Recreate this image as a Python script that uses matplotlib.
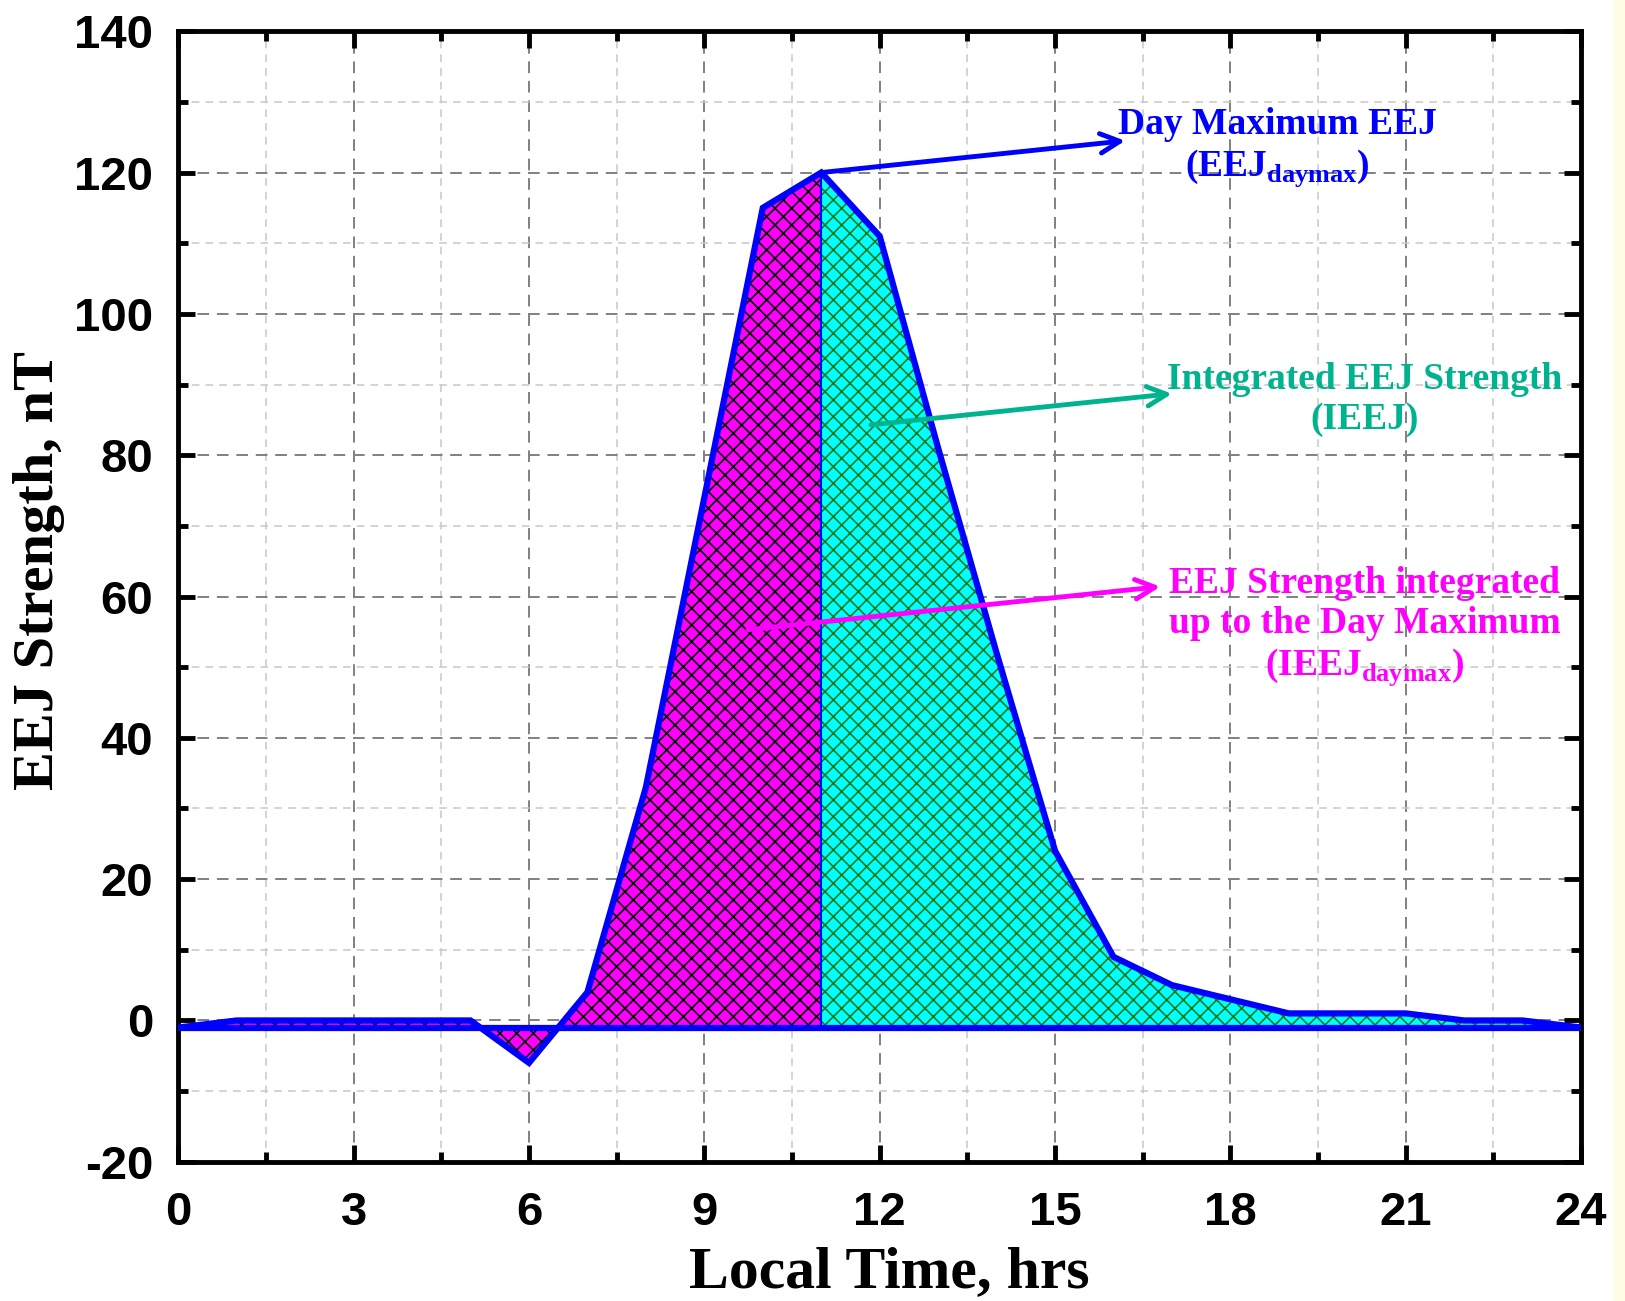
import matplotlib.pyplot as plt
from matplotlib.ticker import MultipleLocator
from matplotlib.patches import Rectangle

plt.rcParams['mathtext.fontset'] = 'custom'
plt.rcParams['mathtext.rm'] = 'Liberation Serif:bold'
plt.rcParams['mathtext.bf'] = 'Liberation Serif:bold'
plt.rcParams['hatch.linewidth'] = 1.2
plt.rcParams['axes.unicode_minus'] = False

# hourly EEJ strength (nT)
hours = list(range(0, 25))
eej = [-1, 0, 0, 0, 0, 0, -6, 4, 33, 74, 115, 120, 111, 81, 52, 24,
       9, 5, 3, 1, 1, 1, 0, 0, -1]
baseline = -1
peak_hour = 11

x_ticks = [0, 3, 6, 9, 12, 15, 18, 21, 24]
y_ticks = [-20, 0, 20, 40, 60, 80, 100, 120, 140]

fig = plt.figure(figsize=(16.25, 13.01), dpi=100)
fig.patches.append(Rectangle((0.9925, 0), 0.0075, 1, transform=fig.transFigure,
                             facecolor='#fffde6', edgecolor='none', zorder=-10))
ax = fig.add_axes([0.1097, 0.107, 0.8633, 0.869])

i_pk = hours.index(peak_hour)
ax.fill_between(hours[:i_pk + 1], eej[:i_pk + 1], baseline, facecolor='#ff00ff',
                edgecolor='black', hatch='xx', linewidth=0, zorder=2)
ax.fill_between(hours[i_pk:], eej[i_pk:], baseline, facecolor='#00ffff',
                edgecolor='#1a7a1a', hatch='xx', linewidth=0, zorder=2)
ax.plot([peak_hour, peak_hour], [baseline, eej[i_pk]], color='#0000ff', lw=1.5, zorder=3)
ax.plot([hours[0], hours[-1]], [baseline, baseline], color='#0000ff', lw=4.5, zorder=3,
        solid_capstyle='butt')
ax.plot(hours, eej, color='#0000ff', lw=4.5, zorder=4, solid_joinstyle='miter')

ax.set_xlim(0, 24)
ax.set_ylim(-20, 140)
ax.xaxis.set_minor_locator(MultipleLocator(1.5))
ax.yaxis.set_minor_locator(MultipleLocator(10))
ax.set_xticks(x_ticks)
ax.set_yticks(y_ticks)
ax.grid(True, which='major', color='#808080', linestyle=(0, (6, 4)), lw=1.4, zorder=0)
ax.grid(True, which='minor', color='#c8c8c8', linestyle=(0, (5, 4)), lw=1.1, zorder=0)
ax.set_axisbelow(True)

ax.tick_params(which='both', direction='in', top=True, right=True, width=3.5)
ax.tick_params(which='major', length=12)
ax.tick_params(axis='x', which='major', pad=21)
ax.tick_params(axis='y', which='major', pad=18)
ax.tick_params(which='minor', length=7)
for s in ax.spines.values():
    s.set_linewidth(3.5)
for lab in ax.get_xticklabels() + ax.get_yticklabels():
    lab.set_fontfamily('Liberation Sans')
    lab.set_fontweight('bold')
    lab.set_fontsize(34)

ax.set_xlabel('Local Time, hrs', family='Liberation Serif', weight='bold', fontsize=43,
              va='center')
ax.set_ylabel('EEJ Strength, nT', family='Liberation Serif', weight='bold', fontsize=42,
              va='center')
ax.xaxis.set_label_coords(0.507, -0.098)
ax.yaxis.set_label_coords(-0.099, 0.523)

txt = dict(family='Liberation Serif', weight='bold', fontsize=27, ha='center',
           va='center', linespacing=1.2)
ax.annotate('', xy=(16.2, 124.5), xytext=(11, 120),
            arrowprops=dict(arrowstyle='->', color='#0000ff', lw=3.5, mutation_scale=35,
                            shrinkA=0, shrinkB=0), zorder=5)
ax.text(18.8, 123.5, 'Day Maximum EEJ\n(EEJ$_{\\rm daymax}$)', color='#0000ff', **txt)

ax.annotate('', xy=(17.0, 88.7), xytext=(11.85, 84.3),
            arrowprops=dict(arrowstyle='->', color='#00b38f', lw=3.5, mutation_scale=35,
                            shrinkA=0, shrinkB=0), zorder=5)
ax.text(20.3, 87.9, 'Integrated EEJ Strength\n(IEEJ)', color='#00b38f', **txt)

ax.annotate('', xy=(16.8, 61.4), xytext=(9.75, 55.3),
            arrowprops=dict(arrowstyle='->', color='#ff00ff', lw=3.5, mutation_scale=35,
                            shrinkA=0, shrinkB=0), zorder=5)
ax.text(20.3, 55.7, 'EEJ Strength integrated\nup to the Day Maximum\n(IEEJ$_{\\rm daymax}$)',
        color='#ff00ff', **txt)

fig.savefig('out.png', dpi=100)
